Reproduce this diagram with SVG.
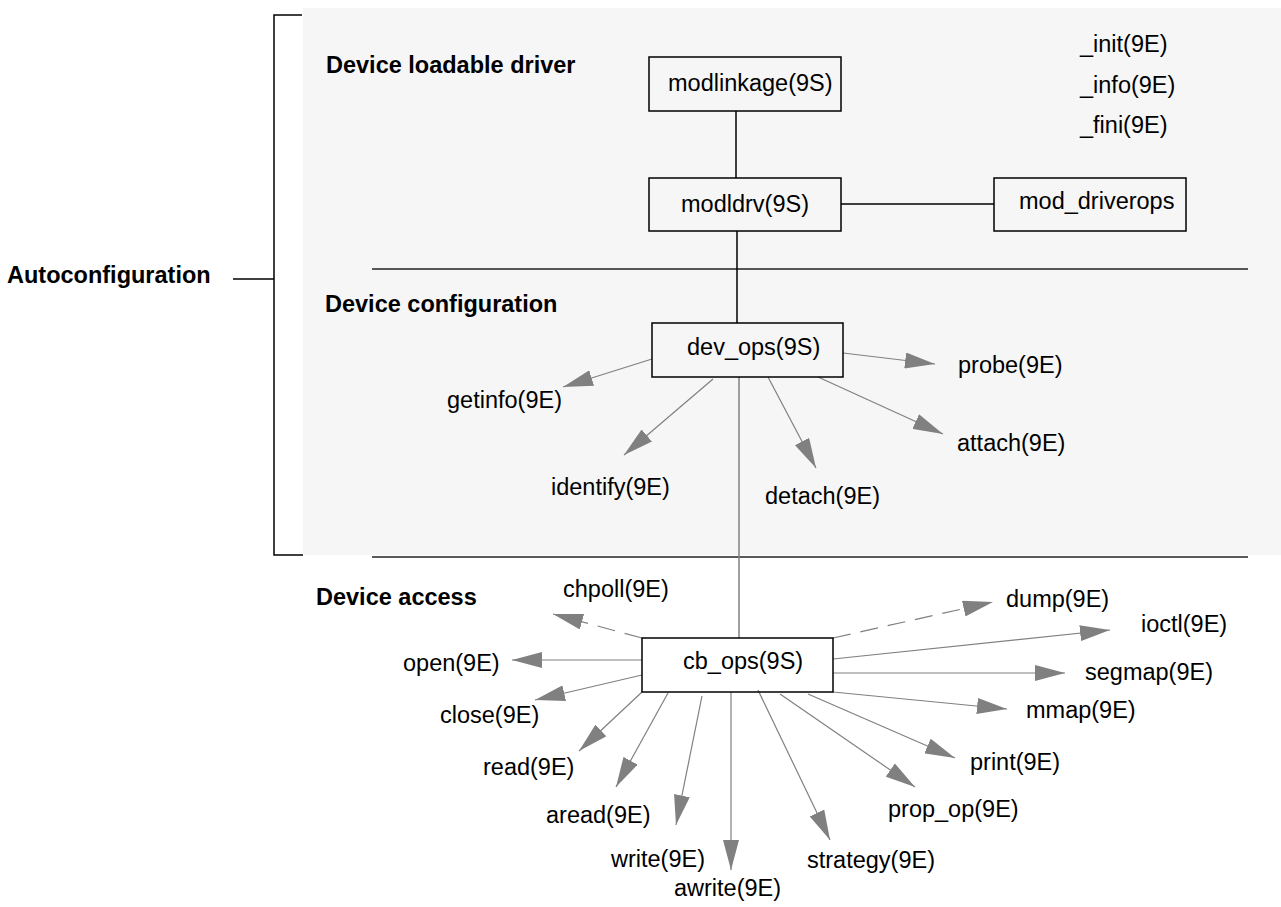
<svg xmlns="http://www.w3.org/2000/svg" width="1281" height="907" viewBox="0 0 1281 907">
<style>
text{font-family:"Liberation Sans",Arial,Helvetica,sans-serif;font-size:23.5px;fill:#000}
.b{font-weight:bold}
.box{fill:none;stroke:#000;stroke-width:1.5}
.blk{stroke:#000;stroke-width:1.5;fill:none}
.sep{stroke:#222;stroke-width:1.5;fill:none}
.arr{stroke:#808080;stroke-width:1.2;fill:none;marker-end:url(#ah)}
.dash{stroke-dasharray:18 10}
.gl{stroke:#808080;stroke-width:1.5;fill:none}
</style>
<defs>
<marker id="ah" markerUnits="userSpaceOnUse" markerWidth="30" markerHeight="16" refX="30" refY="8" orient="auto" viewBox="0 0 30 16">
<path d="M0,0 L30,8 L0,16 z" fill="#808080"/>
</marker>
</defs>
<rect x="0" y="0" width="1281" height="907" fill="#fff"/>
<rect x="303" y="8" width="978" height="547" fill="#f6f6f6"/>
<g id="bracket">
<path class="blk" d="M302,15 H274 V555 H303"/>
<line class="blk" x1="233" y1="279" x2="274" y2="279"/>
</g>
<g id="separators">
<line class="sep" x1="372" y1="269" x2="1248" y2="269"/>
<line class="sep" x1="372" y1="557" x2="1248" y2="557"/>
</g>
<g id="headings">
<text class="b" x="7" y="283">Autoconfiguration</text>
<text class="b" x="326" y="73">Device loadable driver</text>
<text class="b" x="325" y="312">Device configuration</text>
<text class="b" x="316" y="605">Device access</text>
</g>
<g id="connectors">
<line class="blk" x1="736" y1="111" x2="736" y2="178"/>
<line class="blk" x1="841" y1="204" x2="994" y2="204"/>
<line class="blk" x1="737" y1="231" x2="737" y2="323"/>
<line class="gl" x1="739" y1="377" x2="739" y2="638"/>
<line class="arr" x1="652" y1="359" x2="563" y2="387"/>
<line class="arr" x1="713" y1="379" x2="624" y2="455"/>
<line class="arr" x1="768" y1="377" x2="816" y2="468"/>
<line class="arr" x1="818" y1="377" x2="943" y2="434"/>
<line class="arr" x1="843" y1="353" x2="935" y2="364"/>
<line class="arr dash" x1="642" y1="638" x2="553" y2="614"/>
<line class="arr dash" x1="833" y1="638" x2="993" y2="602"/>
<line class="arr" x1="833" y1="659" x2="1110" y2="630"/>
<line class="arr" x1="833" y1="673" x2="1065" y2="673"/>
<line class="arr" x1="833" y1="692" x2="1007" y2="709"/>
<line class="arr" x1="808" y1="694" x2="955" y2="758"/>
<line class="arr" x1="780" y1="694" x2="915" y2="787"/>
<line class="arr" x1="758" y1="690" x2="830" y2="840"/>
<line class="arr" x1="731" y1="692" x2="731" y2="870"/>
<line class="arr" x1="702" y1="696" x2="676" y2="825"/>
<line class="arr" x1="668" y1="693" x2="616" y2="787"/>
<line class="arr" x1="642" y1="692" x2="579" y2="751"/>
<line class="arr" x1="642" y1="675" x2="535" y2="700"/>
<line class="arr" x1="642" y1="660" x2="512" y2="660"/>
</g>
<g id="modlinkage"><rect class="box" x="649" y="57" width="192" height="54"/><text x="668" y="91">modlinkage(9S)</text></g>
<g id="modldrv"><rect class="box" x="649" y="178" width="192" height="53"/><text x="681" y="212">modldrv(9S)</text></g>
<g id="mod_driverops"><rect class="box" x="994" y="178" width="192" height="53"/><text x="1019" y="209">mod_driverops</text></g>
<g id="init"><text x="1080" y="52">_init(9E)</text></g>
<g id="info"><text x="1080" y="93">_info(9E)</text></g>
<g id="fini"><text x="1080" y="133">_fini(9E)</text></g>
<g id="dev_ops"><rect class="box" x="652" y="323" width="191" height="54"/><text x="687" y="355">dev_ops(9S)</text></g>
<g id="getinfo"><text x="447" y="408">getinfo(9E)</text></g>
<g id="identify"><text x="551" y="495">identify(9E)</text></g>
<g id="detach"><text x="765" y="504">detach(9E)</text></g>
<g id="attach"><text x="957" y="451">attach(9E)</text></g>
<g id="probe"><text x="958" y="373">probe(9E)</text></g>
<g id="cb_ops"><rect class="box" x="642" y="638" width="191" height="54"/><text x="683" y="669">cb_ops(9S)</text></g>
<g id="chpoll"><text x="563" y="597">chpoll(9E)</text></g>
<g id="dump"><text x="1006" y="607">dump(9E)</text></g>
<g id="ioctl"><text x="1141" y="632">ioctl(9E)</text></g>
<g id="segmap"><text x="1085" y="680">segmap(9E)</text></g>
<g id="mmap"><text x="1026" y="718">mmap(9E)</text></g>
<g id="print"><text x="970" y="770">print(9E)</text></g>
<g id="prop_op"><text x="888" y="817">prop_op(9E)</text></g>
<g id="strategy"><text x="807" y="868">strategy(9E)</text></g>
<g id="awrite"><text x="674" y="896">awrite(9E)</text></g>
<g id="write"><text x="611" y="867">write(9E)</text></g>
<g id="aread"><text x="546" y="823">aread(9E)</text></g>
<g id="read"><text x="483" y="775">read(9E)</text></g>
<g id="close"><text x="440" y="723">close(9E)</text></g>
<g id="open"><text x="403" y="671">open(9E)</text></g>
</svg>
